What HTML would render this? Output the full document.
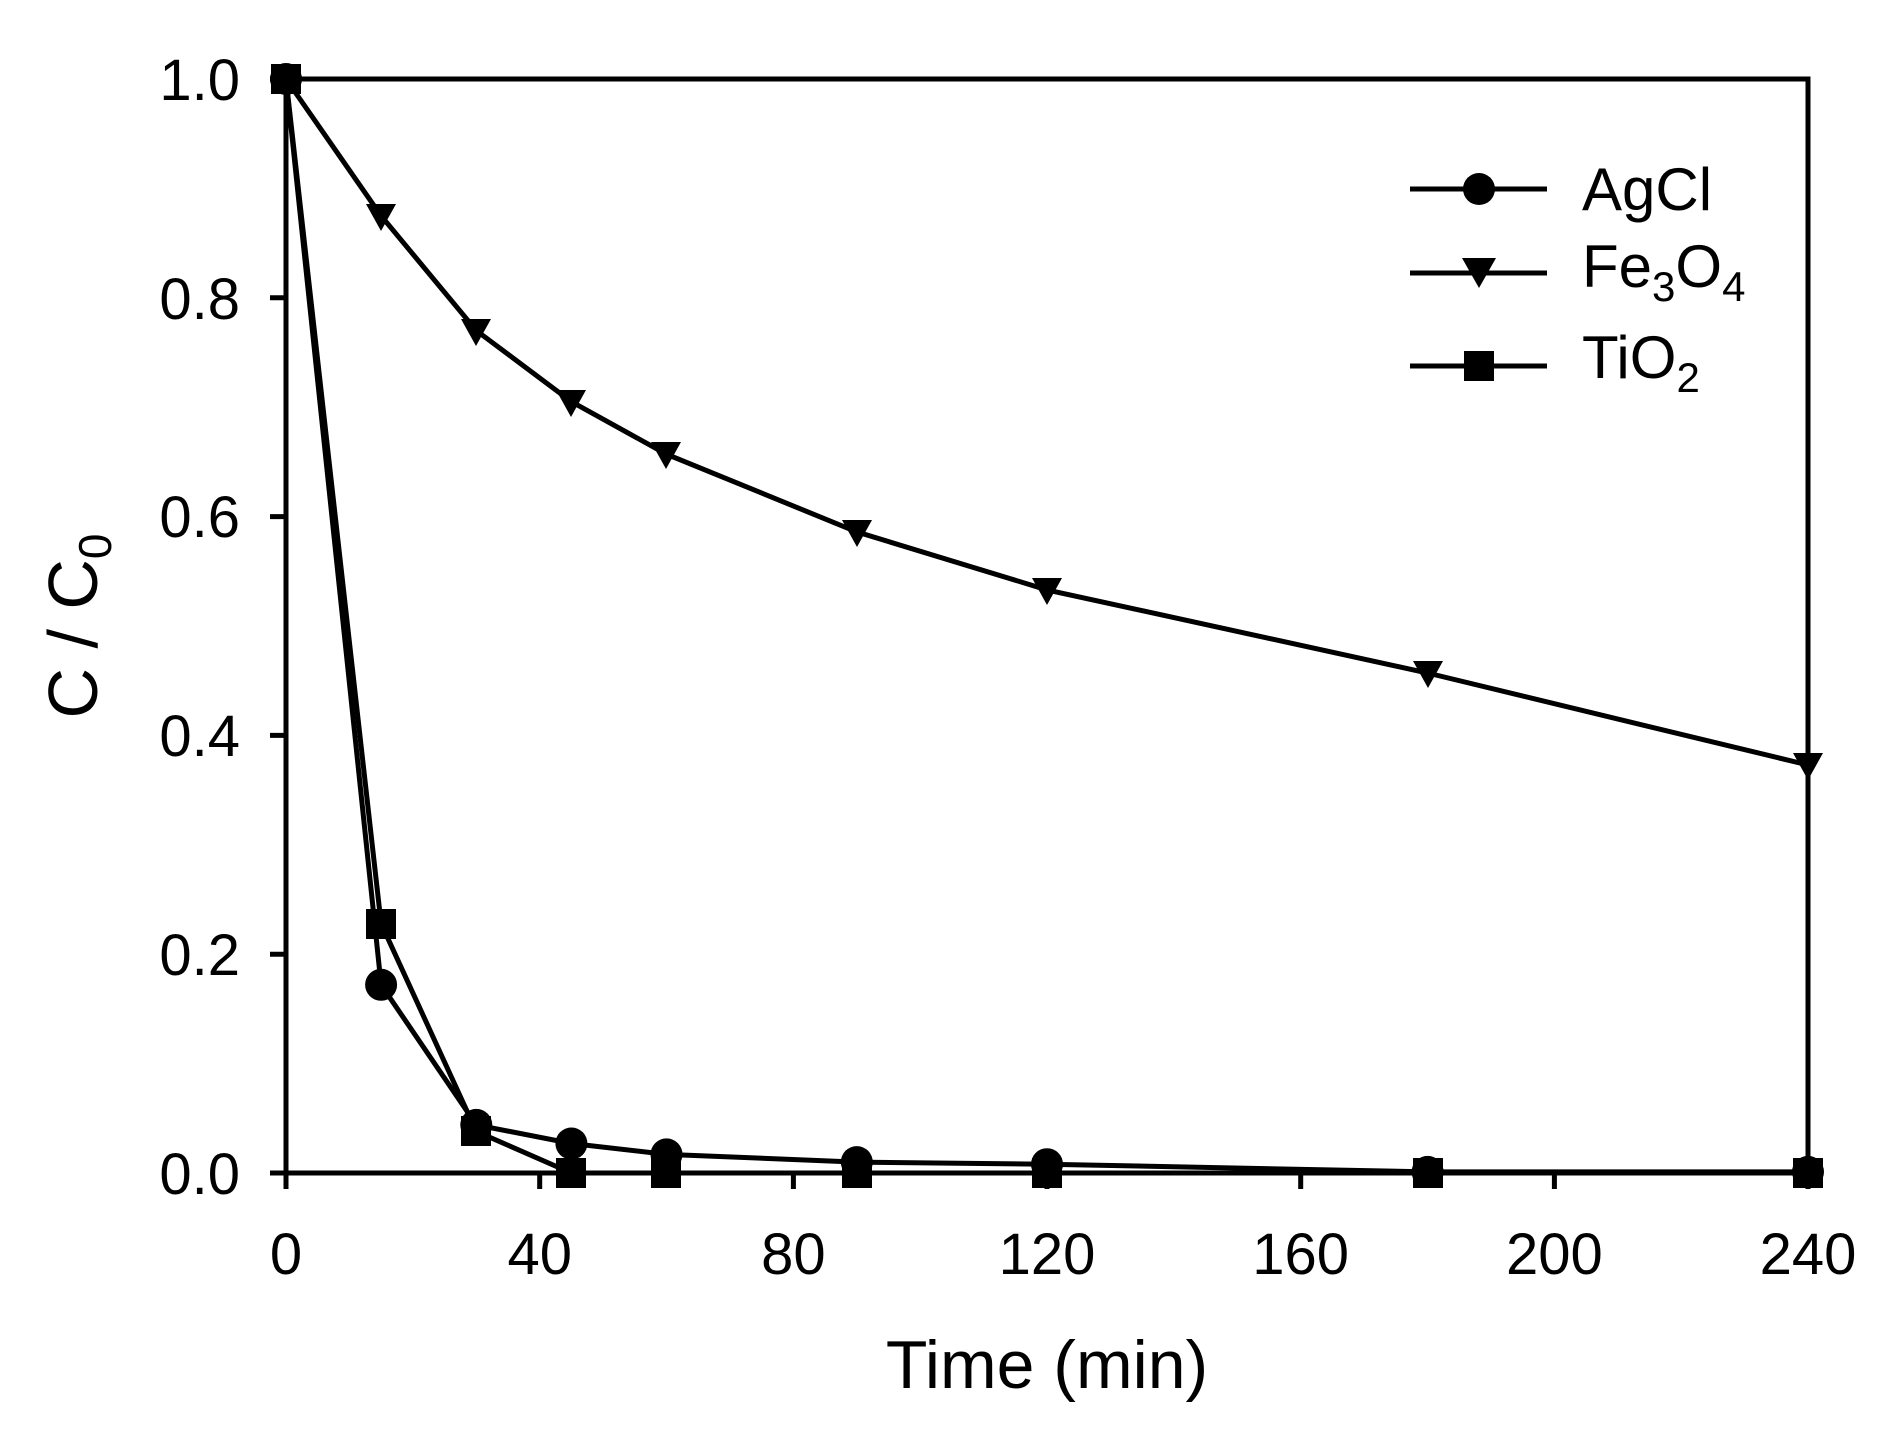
<!DOCTYPE html>
<html><head><style>body{margin:0;background:#fff}svg{display:block}</style></head><body>
<svg width="1888" height="1433" xmlns="http://www.w3.org/2000/svg" font-family="Liberation Sans, Arial, sans-serif">
<rect width="1888" height="1433" fill="#fff"/>
<g stroke="#000" stroke-width="5" fill="none">
<rect x="286" y="79" width="1522" height="1094"/>
<path d="M286 79h-16M286 297.8h-16M286 516.6h-16M286 735.4h-16M286 954.2h-16M286 1173h-16"/>
<path d="M286 1173v16M539.7 1173v16M793.4 1173v16M1047 1173v16M1300.7 1173v16M1554.4 1173v16M1808 1173v16"/>
<polyline points="286,79 381.1,215.8 476.3,330.6 571.4,401.7 666.5,454.2 856.8,531.9 1047,589.9 1427.6,673 1808,765"/>
<polyline points="286,79 381.1,984.8 476.3,1124.9 571.4,1143.5 666.5,1154.4 856.8,1162.1 1047,1164.2 1427.6,1171.9 1808,1171.9"/>
<polyline points="286,79 381.1,923.6 476.3,1131.4 571.4,1173 666.5,1173 856.8,1173 1047,1173 1427.6,1173 1808,1173"/>
<path d="M1410 189h137M1410 273h137M1410 366h137"/>
</g>
<g fill="#000">
<path d="M271 67h30l-15 27zM366 204h30l-15 27zM461 319h30l-15 27zM556 390h30l-15 27zM651 442h30l-15 27zM842 520h30l-15 27zM1032 578h30l-15 27zM1413 661h30l-15 27zM1793 753h30l-15 27zM1462 258h34l-17 30z"/>
<rect x="271" y="64" width="30" height="30"/><rect x="366" y="909" width="30" height="30"/><rect x="461" y="1116" width="30" height="30"/><rect x="556" y="1158" width="30" height="30"/><rect x="651" y="1158" width="30" height="30"/><rect x="842" y="1158" width="30" height="30"/><rect x="1032" y="1158" width="30" height="30"/><rect x="1413" y="1158" width="30" height="30"/><rect x="1793" y="1158" width="30" height="30"/><rect x="1464" y="351" width="30" height="30"/>
<circle cx="286" cy="79" r="16"/><circle cx="381.1" cy="984.8" r="16"/><circle cx="476.3" cy="1124.9" r="16"/><circle cx="571.4" cy="1143.5" r="16"/><circle cx="666.5" cy="1154.4" r="16"/><circle cx="856.8" cy="1162.1" r="16"/><circle cx="1047" cy="1164.2" r="16"/><circle cx="1427.6" cy="1171.9" r="16"/><circle cx="1808" cy="1171.9" r="16"/><circle cx="1479" cy="189" r="16"/>
</g>
<g font-size="58" text-anchor="end">
<text x="240" y="100">1.0</text><text x="240" y="319">0.8</text><text x="240" y="537">0.6</text><text x="240" y="756">0.4</text><text x="240" y="975">0.2</text><text x="240" y="1194">0.0</text>
</g>
<g font-size="58" text-anchor="middle">
<text x="286" y="1274">0</text><text x="539.7" y="1274">40</text><text x="793.4" y="1274">80</text><text x="1047" y="1274">120</text><text x="1300.7" y="1274">160</text><text x="1554.4" y="1274">200</text><text x="1808" y="1274">240</text>
</g>
<text x="1047" y="1388" font-size="68" text-anchor="middle">Time (min)</text>
<text transform="translate(97,626) rotate(-90)" font-size="70" text-anchor="middle">C / C<tspan font-size="46" dy="14">0</tspan></text>
<g font-size="60">
<text x="1582" y="210">AgCl</text>
<text x="1582" y="287">Fe<tspan font-size="42" dy="14">3</tspan><tspan dy="-14">O</tspan><tspan font-size="42" dy="14">4</tspan></text>
<text x="1582" y="378">TiO<tspan font-size="42" dy="14">2</tspan></text>
</g>
</svg>
</body></html>
